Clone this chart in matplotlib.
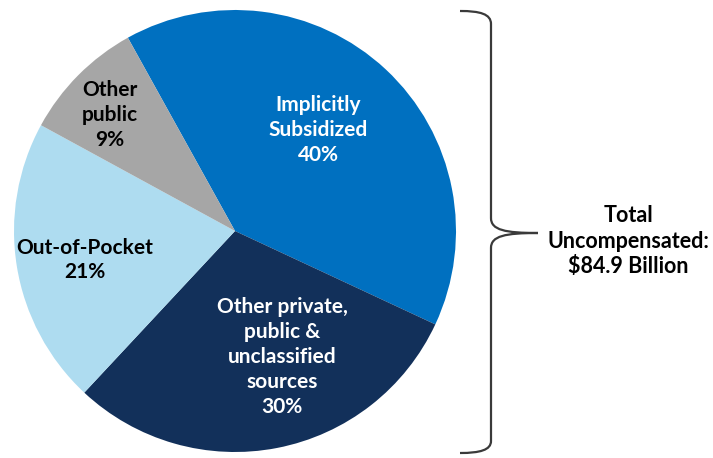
import matplotlib
matplotlib.use("Agg")
import matplotlib.pyplot as plt
from matplotlib.path import Path
from matplotlib.patches import PathPatch

plt.rcParams["font.family"] = ["Lato", "DejaVu Sans"]

labels = ["Implicitly\nSubsidized", "Other private,\npublic &\nunclassified\nsources",
          "Out-of-Pocket", "Other\npublic"]
shares = [40, 30, 21, 9]
colors = ["#0070C0", "#12305A", "#AEDCF0", "#A6A6A6"]
text_colors = ["white", "white", "black", "black"]
total_text = "Total\nUncompensated:\n$84.9 Billion"

W, H = 713, 458


def py(y):
    # image rows run top-down, the axes run bottom-up
    return H - y


# label centres, in pixels from the top-left corner
label_xy = [(318, 130), (282, 357), (85, 260), (110, 115)]

fig = plt.figure(figsize=(W / 100, H / 100), dpi=100)
ax = fig.add_axes([0, 0, 1, 1])

cx, cy, r = 235, py(231), 221
wedges, _ = ax.pie(shares, colors=colors, startangle=119, counterclock=False,
                   center=(cx, cy), radius=r, frame=True,
                   wedgeprops=dict(linewidth=0))
ax.set_xlim(0, W)
ax.set_ylim(0, H)
ax.set_aspect("equal")
ax.axis("off")

for lab, val, tc, (x, y) in zip(labels, shares, text_colors, label_xy):
    ax.text(x, py(y), f"{lab}\n{val}%", ha="center", va="center", color=tc,
            fontsize=15, fontweight="bold", linespacing=1.3)

# curly brace spanning the chart on the right
bx, tip = 491, (538, py(233))
verts = [
    (460, py(11)), (480, py(11)), (bx, py(14)), (bx, py(24)),
    (bx, py(218)),
    (bx, py(230)), (505, py(233)), tip,
    (505, py(233)), (bx, py(236)), (bx, py(248)),
    (bx, py(441)),
    (bx, py(450)), (480, py(453)), (460, py(453)),
]
codes = [Path.MOVETO, Path.CURVE4, Path.CURVE4, Path.CURVE4,
         Path.LINETO,
         Path.CURVE4, Path.CURVE4, Path.CURVE4,
         Path.CURVE4, Path.CURVE4, Path.CURVE4,
         Path.LINETO,
         Path.CURVE4, Path.CURVE4, Path.CURVE4]
ax.add_patch(PathPatch(Path(verts, codes), facecolor="none",
                       edgecolor="#3a3a3a", linewidth=1.6))

ax.text(628, py(241), total_text, ha="center", va="center", color="black",
        fontsize=15.5, fontweight="bold", linespacing=1.26)

fig.savefig("out.png", dpi=100)
